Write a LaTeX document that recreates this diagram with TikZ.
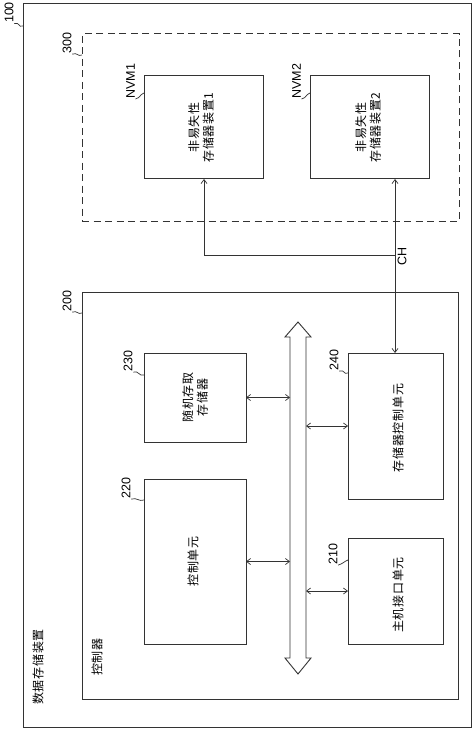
\documentclass[tikz,border=0pt]{standalone}
\usepackage{fontspec}
\setmainfont{Liberation Sans}
\newfontfamily\cjk[LetterSpace=6]{Noto Sans CJK SC}
\usetikzlibrary{arrows.meta,calc}
\definecolor{ln}{HTML}{333333}
\tikzset{
  box/.style={draw=ln, line width=1pt, inner sep=0pt, outer sep=0pt, fill=none},
  dbox/.style={box, dash pattern=on 7pt off 4.5pt},
  num/.style={font=\fontsize{12.5}{12.5}\selectfont, rotate=90, inner sep=0.5pt, text=black},
  txt/.style={font=\cjk\fontsize{12}{14.5}\selectfont, rotate=90, align=center, inner sep=0pt, text=black},
  lead/.style={draw=ln, line width=0.7pt},
  tip/.tip={Straight Barb[length=4pt,width=6pt,line width=0.7pt]},
  dar/.style={draw=ln, line width=0.7pt, tip-tip},
  sar/.style={draw=ln, line width=0.7pt, -tip},
}
\begin{document}
\begin{tikzpicture}[x=1pt,y=-1pt]
\useasboundingbox (0,0) rectangle (474,730);
\fill[white] (0,0) rectangle (474,730);

% boxes
\node[box, minimum width=448pt, minimum height=723pt] (b100) at (247,365.5) {};
\node[dbox, minimum width=377pt, minimum height=187pt] (b300) at (270.5,127.5) {};
\node[box, minimum width=119pt, minimum height=103pt] (nvm1) at (203.5,127.5) {};
\node[box, minimum width=119pt, minimum height=103pt] (nvm2) at (369.5,127.5) {};
\node[box, minimum width=376pt, minimum height=407pt] (b200) at (270,495.5) {};
\node[box, minimum width=102pt, minimum height=89pt] (m230) at (195,397.5) {};
\node[box, minimum width=95pt, minimum height=146pt] (m240) at (395.5,426) {};
\node[box, minimum width=102pt, minimum height=165pt] (m220) at (195,561.5) {};
\node[box, minimum width=95pt, minimum height=106pt] (m210) at (395.5,591) {};

% texts in boxes
\node[txt] (tn1) at (201,127.5) {非易失性\\存储器装置1};
\node[txt] (tn2) at (368,127.5) {非易失性\\存储器装置2};
\node[txt] (t230) at (195,397.5) {随机存取\\存储器};
\node[txt] (t240) at (398,428) {存储器控制单元};
\node[txt] (t220) at (193,561.5) {控制单元};
\node[txt] (t210) at (398,595) {主机接口单元};
\node[txt] (t100) at (38,667) {数据存储装置};
\node[txt] (t200) at (97,657) {控制器};

% reference labels
\node[num] (l100) at (9,12.5) {100};
\node[num] (l300) at (67,43) {300};
\node[num] (lnvm1) at (130.5,81) {NVM1};
\node[num] (lnvm2) at (296.5,81) {NVM2};
\node[num] (l200) at (67,301) {200};
\node[num] (l230) at (128,361) {230};
\node[num] (l240) at (334,360) {240};
\node[num] (l220) at (126,488) {220};
\node[num] (l210) at (333,554) {210};
\node[num] (lch) at (402,256) {CH};

% leaders
\draw[lead] (l100.south west) .. controls +(6,-2) and +(-5,2) .. ($(b100.north west)+(0,22)$);
\draw[lead] (l300.south west) .. controls +(6,-2) and +(-5,2) .. ($(b300.north west)+(0,21)$);
\draw[lead] (lnvm1.south west) .. controls +(6,-2) and +(-5,2) .. ($(nvm1.north west)+(0,17)$);
\draw[lead] (lnvm2.south west) .. controls +(6,-2) and +(-5,2) .. ($(nvm2.north west)+(0,17)$);
\draw[lead] (l200.south west) .. controls +(6,-2) and +(-5,2) .. ($(b200.north west)+(0,21)$);
\draw[lead] (l230.south west) .. controls +(6,-2) and +(-5,2) .. ($(m230.north west)+(0,22)$);
\draw[lead] (l240.south west) .. controls +(6,-2) and +(-5,2) .. ($(m240.north west)+(0,20)$);
\draw[lead] (l220.south west) .. controls +(6,-2) and +(-5,2) .. ($(m220.north west)+(0,21)$);
\draw[lead] (l210.south west) .. controls +(6,-2) and +(-5,2) .. ($(m210.north west)+(0,22)$);

% bus
\coordinate (busl) at (290,0);
\coordinate (busr) at (306,0);
\draw[draw=ln, line width=0.9pt, line join=miter]
  (298,322) -- (311,337) -- (306,337) -- (306,658) -- (311,658) -- (298,674)
  -- (285,658) -- (290,658) -- (290,337) -- (285,337) -- cycle;

% bus connections
\draw[dar] (m230.east) -- (m230.east -| busl);
\draw[dar] (m220.east) -- (m220.east -| busl);
\draw[dar] (m240.west) -- (m240.west -| busr);
\draw[dar] (m210.west) -- (m210.west -| busr);

% channel
\coordinate (chl) at (204,255);
\coordinate (chr) at (395,255);
\draw[draw=ln, line width=0.7pt] (chl) -- (chr);
\draw[sar] (chl) -- (chl |- nvm1.south);
\draw[sar] (chr) -- (chr |- nvm2.south);
\draw[sar] (chr) -- (chr |- m240.north);
\end{tikzpicture}
\end{document}
